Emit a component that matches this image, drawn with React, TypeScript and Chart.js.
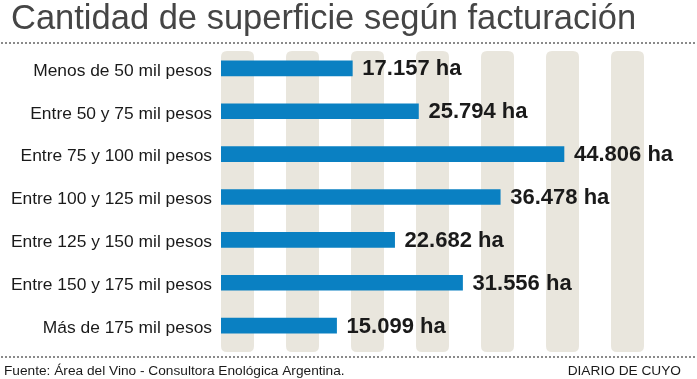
import React, { useEffect, useRef } from "react";
import { Chart, registerables } from "chart.js";

Chart.register(...registerables);

const titleText = "Cantidad de superficie según facturación";
const sourceText = "Fuente: Área del Vino - Consultora Enológica Argentina.";
const brandText = "DIARIO DE CUYO";

const categories = [
  "Menos de 50 mil pesos",
  "Entre 50 y 75 mil pesos",
  "Entre 75 y 100 mil pesos",
  "Entre 100 y 125 mil pesos",
  "Entre 125 y 150 mil pesos",
  "Entre 150 y 175 mil pesos",
  "Más de 175 mil pesos",
];
const hectares = [17157, 25794, 44806, 36478, 22682, 31556, 15099];
const unitLabel = "ha";
const axisMax = 55260;
const stripeCount = 7;

const FONT = "'Liberation Sans', Arial, Helvetica, sans-serif";

function formatValue(v: number): string {
  const s = Math.round(v).toString();
  return s.replace(/\B(?=(\d{3})+(?!\d))/g, ".") + " " + unitLabel;
}

function roundRect(ctx: CanvasRenderingContext2D, x: number, y: number, w: number, h: number, r: number) {
  ctx.beginPath();
  ctx.moveTo(x + r, y);
  ctx.lineTo(x + w - r, y);
  ctx.quadraticCurveTo(x + w, y, x + w, y + r);
  ctx.lineTo(x + w, y + h - r);
  ctx.quadraticCurveTo(x + w, y + h, x + w - r, y + h);
  ctx.lineTo(x + r, y + h);
  ctx.quadraticCurveTo(x, y + h, x, y + h - r);
  ctx.lineTo(x, y + r);
  ctx.quadraticCurveTo(x, y, x + r, y);
  ctx.closePath();
}

const decorPlugin = {
  id: "decor",
  beforeDraw(chart: any) {
    const ctx: CanvasRenderingContext2D = chart.ctx;
    const w = chart.width;
    ctx.save();
    ctx.fillStyle = "#ffffff";
    ctx.fillRect(0, 0, w, chart.height);
    // dotted rules
    ctx.fillStyle = "#8a8a8a";
    for (let x = 1; x < w; x += 4) {
      ctx.fillRect(x, 42, 2, 2);
      ctx.fillRect(x, 356, 2, 2);
    }
    // title
    ctx.fillStyle = "#454545";
    ctx.font = `34.5px ${FONT}`;
    ctx.textAlign = "left";
    ctx.textBaseline = "alphabetic";
    ctx.fillText(titleText, 11, 29);
    // footer
    ctx.fillStyle = "#1a1a1a";
    ctx.font = `13.7px ${FONT}`;
    ctx.fillText(sourceText, 4, 375);
    ctx.textAlign = "right";
    ctx.fillText(brandText, 681, 375);
    ctx.restore();
  },
  beforeDatasetsDraw(chart: any) {
    const ctx: CanvasRenderingContext2D = chart.ctx;
    const a = chart.chartArea;
    const sw = 33;
    const step = (a.right - a.left - sw) / (stripeCount - 1);
    ctx.save();
    ctx.fillStyle = "#e9e6dd";
    for (let i = 0; i < stripeCount; i++) {
      roundRect(ctx, a.left + i * step, a.top + 4, sw, a.bottom - a.top + 1, 6);
      ctx.fill();
    }
    ctx.restore();
  },
  afterDatasetsDraw(chart: any) {
    const ctx: CanvasRenderingContext2D = chart.ctx;
    const meta = chart.getDatasetMeta(0);
    ctx.save();
    ctx.fillStyle = "#1a1a1a";
    ctx.font = `bold 22px ${FONT}`;
    ctx.textAlign = "left";
    ctx.textBaseline = "alphabetic";
    meta.data.forEach((bar: any, i: number) => {
      ctx.fillText(formatValue(hectares[i]), bar.x + 10, bar.y + 7);
    });
    ctx.restore();
  },
};

export default function App() {
  const ref = useRef<HTMLCanvasElement | null>(null);

  useEffect(() => {
    document.body.style.margin = "0";
    const canvas = ref.current;
    if (!canvas) return;
    const chart = new Chart(canvas, {
      type: "bar",
      data: {
        labels: categories,
        datasets: [
          {
            data: hectares,
            backgroundColor: "#0a80c2",
            borderWidth: 0,
            barThickness: 15,
          },
        ],
      },
      options: {
        indexAxis: "y",
        animation: false,
        responsive: false,
        devicePixelRatio: 1,
        layout: { padding: { top: 47, bottom: 32, right: 53, left: 0 } },
        plugins: {
          legend: { display: false },
          tooltip: { enabled: false },
          title: { display: false },
        },
        scales: {
          x: {
            display: false,
            min: 0,
            max: axisMax,
          },
          y: {
            grid: { display: false, drawTicks: false },
            border: { display: false },
            ticks: {
              color: "#1a1a1a",
              font: { family: FONT, size: 17.4 },
              padding: 9,
              labelOffset: 2.5,
            },
            afterFit(scale: any) {
              scale.width = 221;
            },
          },
        },
      },
      plugins: [decorPlugin],
    });
    return () => chart.destroy();
  }, []);

  return (
    <div style={{ width: 697, height: 379, position: "relative" }}>
      <canvas ref={ref} width={697} height={379} style={{ display: "block", width: 697, height: 379 }} />
    </div>
  );
}
